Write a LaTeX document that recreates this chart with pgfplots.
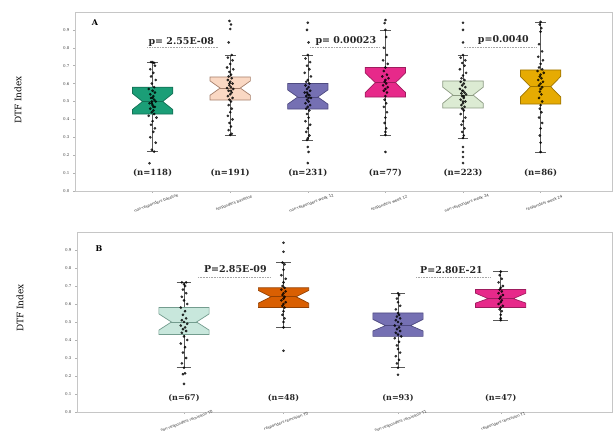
\documentclass[border=0pt]{standalone}
\usepackage{fontspec}
\setmainfont{DejaVu Serif}
\newfontfamily\dvs{DejaVu Sans}
\usepackage{pgfplots}
\pgfplotsset{compat=1.18}

\definecolor{cA1}{HTML}{1B9E77}\definecolor{eA1}{HTML}{137055}
\definecolor{cA2}{HTML}{FAD8C3}\definecolor{eA2}{HTML}{A5806C}
\definecolor{cA3}{HTML}{7570B3}\definecolor{eA3}{HTML}{4E4A80}
\definecolor{cA4}{HTML}{E7298A}\definecolor{eA4}{HTML}{9E1C5E}
\definecolor{cA5}{HTML}{DCEBD3}\definecolor{eA5}{HTML}{8C9B82}
\definecolor{cA6}{HTML}{E6AB02}\definecolor{eA6}{HTML}{9E7502}
\definecolor{cB1}{HTML}{C8E7DC}\definecolor{eB1}{HTML}{739C8E}
\definecolor{cB2}{HTML}{D95F02}\definecolor{eB2}{HTML}{944102}

\pgfplotsset{
  whisk/.style={draw=black!65, line width=0.6bp},
  pts/.style={only marks, mark=*, mark size=1.15bp, mark options={fill=black, draw=black}, opacity=0.75},
  pline/.style={draw=gray!70, densely dotted, line width=0.6bp},
  panel/.style={scale only axis, clip=false, ymin=0, ymax=1,
    axis line style={draw=gray!45, line width=0.6bp},
    ytick={0,0.1,0.2,0.3,0.4,0.5,0.6,0.7,0.8,0.9},
    yticklabels={0.0,0.1,0.2,0.3,0.4,0.5,0.6,0.7,0.8,0.9},
    tick style={draw=gray!60, line width=0.4bp}, major tick length=2bp, tick align=outside,
    xtick pos=bottom, ytick pos=left,
    yticklabel style={font=\fontsize{4}{4}\selectfont, text=black!75},
    xticklabel style={font=\dvs\fontsize{3.8}{4}\selectfont, text=black!80, rotate=20, anchor=center}
  }
}

% notched box: c w q1 notchlo median notchhi q3 fill draw
\newcommand{\nbox}[9]{%
  \pgfmathsetmacro\nbxl{#1-#2}\pgfmathsetmacro\nbxr{#1+#2}%
  \pgfmathsetmacro\nbil{#1-#2/2}\pgfmathsetmacro\nbir{#1+#2/2}%
  \edef\tmp{\noexpand\addplot[fill=#8, draw=#9, line width=0.7bp] coordinates {(\nbxl,#3) (\nbxr,#3) (\nbxr,#4) (\nbir,#5) (\nbxr,#6) (\nbxr,#7) (\nbxl,#7) (\nbxl,#6) (\nbil,#5) (\nbxl,#4)} -- cycle;
  \noexpand\addplot[draw=#9, line width=0.7bp] coordinates {(\nbil,#5) (\nbir,#5)};}\tmp}
% whiskers: c lo q1 q3 hi
\newcommand{\wbox}[5]{%
  \pgfmathsetmacro\wxl{#1-0.07}\pgfmathsetmacro\wxr{#1+0.07}%
  \edef\tmp{\noexpand\addplot[whisk] coordinates {(#1,#2) (#1,#3)};
  \noexpand\addplot[whisk] coordinates {(#1,#4) (#1,#5)};
  \noexpand\addplot[whisk] coordinates {(\wxl,#2) (\wxr,#2)};
  \noexpand\addplot[whisk] coordinates {(\wxl,#5) (\wxr,#5)};}\tmp}

\begin{document}
\begin{tikzpicture}
\useasboundingbox (0,0) rectangle (616bp,433bp);

% ---------------- Panel A ----------------
\begin{axis}[panel, at={(75bp,242bp)}, anchor=south west, width=537bp, height=179bp,
  xmin=0, xmax=6.92, xtick={1,2,3,4,5,6},
  xticklabels={non-responders baseline,responders baseline,non-responders week 12,responders week 12,non-responders week 24,responders week 24},
  xticklabel style={yshift=-11bp}]
\wbox{1}{0.22}{0.43}{0.58}{0.72}
\wbox{2}{0.313}{0.508}{0.637}{0.76}
\wbox{3}{0.285}{0.458}{0.60}{0.76}
\wbox{4}{0.313}{0.525}{0.69}{0.90}
\wbox{5}{0.296}{0.464}{0.615}{0.76}
\wbox{6}{0.218}{0.486}{0.676}{0.945}
\nbox{1}{0.26}{0.43}{0.455}{0.50}{0.545}{0.58}{cA1}{eA1}
\nbox{2}{0.26}{0.508}{0.535}{0.575}{0.615}{0.637}{cA2}{eA2}
\nbox{3}{0.26}{0.458}{0.485}{0.525}{0.565}{0.60}{cA3}{eA3}
\nbox{4}{0.26}{0.525}{0.55}{0.605}{0.66}{0.69}{cA4}{eA4}
\nbox{5}{0.26}{0.464}{0.49}{0.536}{0.58}{0.615}{cA5}{eA5}
\nbox{6}{0.26}{0.486}{0.525}{0.583}{0.64}{0.676}{cA6}{eA6}
\addplot[pts] coordinates {(0.96,0.155)(1.02,0.22)(0.99,0.23)(1.04,0.27)(0.97,0.30)(1.01,0.33)(1.03,0.35)(0.98,0.37)(1.00,0.39)(1.05,0.41)(0.95,0.42)(1.02,0.43)(0.99,0.44)(1.01,0.45)(0.97,0.46)(1.03,0.47)(1.00,0.48)(0.96,0.49)(1.04,0.50)(0.99,0.50)(1.02,0.51)(0.98,0.52)(1.01,0.53)(0.97,0.54)(1.03,0.55)(1.00,0.56)(0.95,0.57)(1.02,0.58)(0.99,0.60)(1.04,0.62)(0.98,0.64)(1.01,0.66)(0.97,0.68)(1.03,0.70)(1.00,0.72)(0.98,0.72)(1.02,0.715)(0.99,0.49)(1.01,0.47)(1.00,0.52)};
\addplot[pts] coordinates {(1.99,0.95)(2.01,0.93)(2.00,0.905)(1.98,0.83)(2.02,0.76)(1.97,0.745)(2.03,0.73)(2.00,0.71)(1.96,0.69)(2.04,0.68)(1.99,0.665)(2.01,0.65)(1.98,0.64)(2.02,0.63)(1.97,0.62)(2.00,0.61)(2.03,0.60)(1.99,0.59)(2.01,0.58)(1.96,0.575)(2.04,0.57)(1.98,0.56)(2.02,0.55)(2.00,0.54)(1.97,0.53)(2.03,0.52)(1.99,0.51)(2.01,0.50)(1.98,0.48)(2.02,0.46)(2.00,0.44)(1.97,0.42)(2.03,0.40)(1.99,0.38)(2.01,0.36)(1.98,0.34)(2.02,0.32)(2.00,0.313)(1.99,0.60)(2.01,0.56)};
\addplot[pts] coordinates {(3.00,0.94)(2.99,0.90)(3.01,0.83)(3.00,0.76)(2.97,0.74)(3.03,0.72)(2.99,0.70)(3.02,0.68)(2.96,0.66)(3.04,0.64)(3.00,0.62)(2.98,0.61)(3.02,0.60)(2.97,0.59)(3.01,0.58)(2.99,0.57)(3.03,0.56)(2.96,0.55)(3.00,0.54)(3.02,0.535)(2.98,0.53)(3.04,0.52)(2.99,0.51)(3.01,0.50)(2.97,0.49)(3.03,0.48)(3.00,0.47)(2.98,0.46)(3.02,0.45)(2.99,0.43)(3.01,0.41)(2.97,0.39)(3.03,0.37)(3.00,0.35)(2.98,0.33)(3.02,0.31)(3.00,0.295)(2.99,0.285)(3.00,0.246)(3.01,0.218)(3.00,0.156)(2.99,0.55)(3.01,0.52)};
\addplot[pts] coordinates {(4.00,0.955)(3.99,0.938)(4.00,0.90)(4.01,0.86)(3.98,0.80)(4.02,0.76)(3.97,0.73)(4.03,0.71)(4.00,0.69)(3.98,0.67)(4.02,0.65)(3.96,0.64)(4.04,0.63)(4.00,0.62)(3.99,0.61)(4.01,0.60)(3.97,0.59)(4.03,0.58)(4.00,0.57)(3.98,0.56)(4.02,0.55)(4.00,0.53)(3.99,0.51)(4.01,0.49)(3.98,0.47)(4.02,0.44)(4.00,0.41)(3.99,0.38)(4.01,0.35)(4.00,0.33)(4.00,0.313)(4.00,0.218)};
\addplot[pts] coordinates {(5.00,0.94)(5.00,0.90)(5.00,0.83)(5.00,0.76)(4.97,0.745)(5.03,0.73)(4.99,0.715)(5.02,0.70)(4.96,0.68)(5.04,0.66)(5.00,0.645)(4.98,0.63)(5.02,0.62)(4.97,0.61)(5.01,0.60)(4.99,0.59)(5.03,0.58)(4.96,0.57)(5.00,0.56)(5.02,0.55)(4.98,0.545)(5.04,0.54)(4.99,0.53)(5.01,0.52)(4.97,0.51)(5.03,0.50)(5.00,0.49)(4.98,0.48)(5.02,0.47)(4.99,0.46)(5.01,0.45)(4.97,0.43)(5.03,0.41)(5.00,0.39)(4.98,0.37)(5.02,0.35)(4.99,0.33)(5.01,0.31)(5.00,0.296)(5.00,0.246)(5.00,0.218)(5.00,0.19)(5.00,0.156)(4.99,0.56)(5.01,0.53)(5.00,0.50)};
\addplot[pts] coordinates {(6.00,0.945)(5.99,0.93)(6.01,0.91)(6.00,0.89)(5.98,0.82)(6.02,0.78)(5.97,0.75)(6.03,0.73)(6.00,0.71)(5.98,0.69)(6.02,0.68)(5.96,0.67)(6.04,0.66)(6.00,0.65)(5.99,0.64)(6.01,0.63)(5.97,0.62)(6.03,0.61)(6.00,0.60)(5.98,0.59)(6.02,0.58)(6.00,0.57)(5.99,0.555)(6.01,0.54)(5.98,0.52)(6.02,0.50)(6.00,0.48)(5.99,0.46)(6.01,0.44)(5.98,0.41)(6.02,0.38)(6.00,0.35)(5.99,0.31)(6.00,0.27)(6.00,0.218)};
\addplot[pline] coordinates {(0.93,0.80) (1.84,0.80)};
\addplot[pline] coordinates {(3.03,0.805) (3.92,0.805)};
\addplot[pline] coordinates {(5.01,0.805) (5.94,0.805)};
\node[font=\bfseries\fontsize{9.5}{10}\selectfont, text=black!85] at (axis cs:1.37,0.835) {p= 2.55E-08};
\node[font=\bfseries\fontsize{9.5}{10}\selectfont, text=black!85] at (axis cs:3.49,0.84) {p= 0.00023};
\node[font=\bfseries\fontsize{9.5}{10}\selectfont, text=black!85] at (axis cs:5.52,0.845) {p=0.0040};
\node[font=\bfseries\fontsize{8.5}{9}\selectfont, text=black!85] at (axis cs:1,0.10) {(n=118)};
\node[font=\bfseries\fontsize{8.5}{9}\selectfont, text=black!85] at (axis cs:2,0.10) {(n=191)};
\node[font=\bfseries\fontsize{8.5}{9}\selectfont, text=black!85] at (axis cs:3,0.10) {(n=231)};
\node[font=\bfseries\fontsize{8.5}{9}\selectfont, text=black!85] at (axis cs:4,0.10) {(n=77)};
\node[font=\bfseries\fontsize{8.5}{9}\selectfont, text=black!85] at (axis cs:5,0.10) {(n=223)};
\node[font=\bfseries\fontsize{8.5}{9}\selectfont, text=black!85] at (axis cs:6,0.10) {(n=86)};
\end{axis}

% ---------------- Panel B ----------------
\begin{axis}[panel, at={(77bp,21bp)}, anchor=south west, width=535bp, height=180bp,
  xmin=0, xmax=5, xtick={1,1.93,3,3.96},
  xticklabels={non-responders remission T0,responders remission T0,non-responders remission T1,responders remission T1},
  xticklabel style={yshift=-8bp}]
\wbox{1}{0.246}{0.43}{0.58}{0.72}
\wbox{1.93}{0.47}{0.58}{0.69}{0.83}
\wbox{3}{0.246}{0.42}{0.55}{0.66}
\wbox{3.96}{0.51}{0.58}{0.68}{0.78}
\nbox{1}{0.235}{0.43}{0.455}{0.50}{0.545}{0.58}{cB1}{eB1}
\nbox{1.93}{0.235}{0.58}{0.605}{0.64}{0.675}{0.69}{cB2}{eB2}
\nbox{3}{0.235}{0.42}{0.45}{0.48}{0.515}{0.55}{cA3}{eA3}
\nbox{3.96}{0.235}{0.58}{0.605}{0.63}{0.66}{0.68}{cA4}{eA4}
\addplot[pts] coordinates {(1.00,0.156)(0.99,0.21)(1.01,0.215)(1.00,0.246)(0.98,0.27)(1.02,0.30)(0.99,0.33)(1.01,0.36)(0.97,0.38)(1.03,0.40)(1.00,0.42)(0.98,0.44)(1.02,0.45)(0.99,0.46)(1.01,0.47)(0.97,0.48)(1.03,0.49)(1.00,0.50)(0.98,0.51)(1.02,0.52)(0.99,0.54)(1.01,0.56)(0.97,0.58)(1.03,0.60)(1.00,0.62)(0.98,0.64)(1.02,0.66)(0.99,0.68)(1.01,0.70)(1.00,0.71)(0.98,0.72)(1.02,0.72)};
\addplot[pts] coordinates {(1.93,0.94)(1.93,0.89)(1.92,0.83)(1.94,0.82)(1.93,0.79)(1.91,0.76)(1.95,0.74)(1.93,0.72)(1.92,0.70)(1.94,0.69)(1.91,0.68)(1.95,0.67)(1.93,0.66)(1.92,0.65)(1.94,0.64)(1.93,0.63)(1.91,0.62)(1.95,0.61)(1.93,0.60)(1.92,0.59)(1.94,0.58)(1.93,0.56)(1.92,0.54)(1.94,0.52)(1.93,0.50)(1.93,0.47)(1.93,0.34)};
\addplot[pts] coordinates {(3.00,0.207)(3.00,0.246)(2.99,0.27)(3.01,0.29)(2.98,0.31)(3.02,0.33)(3.00,0.35)(2.99,0.37)(3.01,0.39)(2.97,0.41)(3.03,0.42)(3.00,0.43)(2.98,0.44)(3.02,0.45)(2.99,0.46)(3.01,0.47)(2.97,0.48)(3.03,0.49)(3.00,0.50)(2.98,0.51)(3.02,0.52)(2.99,0.53)(3.01,0.54)(3.00,0.55)(2.98,0.57)(3.02,0.59)(3.00,0.61)(2.99,0.63)(3.01,0.65)(3.00,0.66)};
\addplot[pts] coordinates {(3.96,0.78)(3.95,0.76)(3.97,0.74)(3.94,0.72)(3.98,0.70)(3.96,0.69)(3.95,0.68)(3.97,0.67)(3.94,0.66)(3.98,0.65)(3.96,0.64)(3.95,0.63)(3.97,0.62)(3.96,0.61)(3.94,0.60)(3.98,0.59)(3.96,0.58)(3.95,0.57)(3.97,0.56)(3.96,0.54)(3.96,0.52)(3.96,0.51)};
\addplot[pline] coordinates {(1.13,0.749) (1.81,0.749)};
\addplot[pline] coordinates {(3.17,0.749) (3.87,0.749)};
\node[font=\bfseries\fontsize{9.5}{10}\selectfont, text=black!85] at (axis cs:1.48,0.793) {P=2.85E-09};
\node[font=\bfseries\fontsize{9.5}{10}\selectfont, text=black!85] at (axis cs:3.5,0.79) {P=2.80E-21};
\node[font=\bfseries\fontsize{8}{9}\selectfont, text=black!85] at (axis cs:1,0.078) {(n=67)};
\node[font=\bfseries\fontsize{8}{9}\selectfont, text=black!85] at (axis cs:1.93,0.078) {(n=48)};
\node[font=\bfseries\fontsize{8}{9}\selectfont, text=black!85] at (axis cs:3,0.078) {(n=93)};
\node[font=\bfseries\fontsize{8}{9}\selectfont, text=black!85] at (axis cs:3.96,0.078) {(n=47)};
\end{axis}

\node[font=\bfseries\fontsize{8}{8}\selectfont] at (95bp,410bp) {A};
\node[font=\bfseries\fontsize{8}{8}\selectfont] at (99bp,184bp) {B};
\node[rotate=90, font=\fontsize{9}{9}\selectfont] at (18bp,333bp) {DTF Index};
\node[rotate=90, font=\fontsize{9}{9}\selectfont] at (20bp,125bp) {DTF Index};
\end{tikzpicture}
\end{document}
